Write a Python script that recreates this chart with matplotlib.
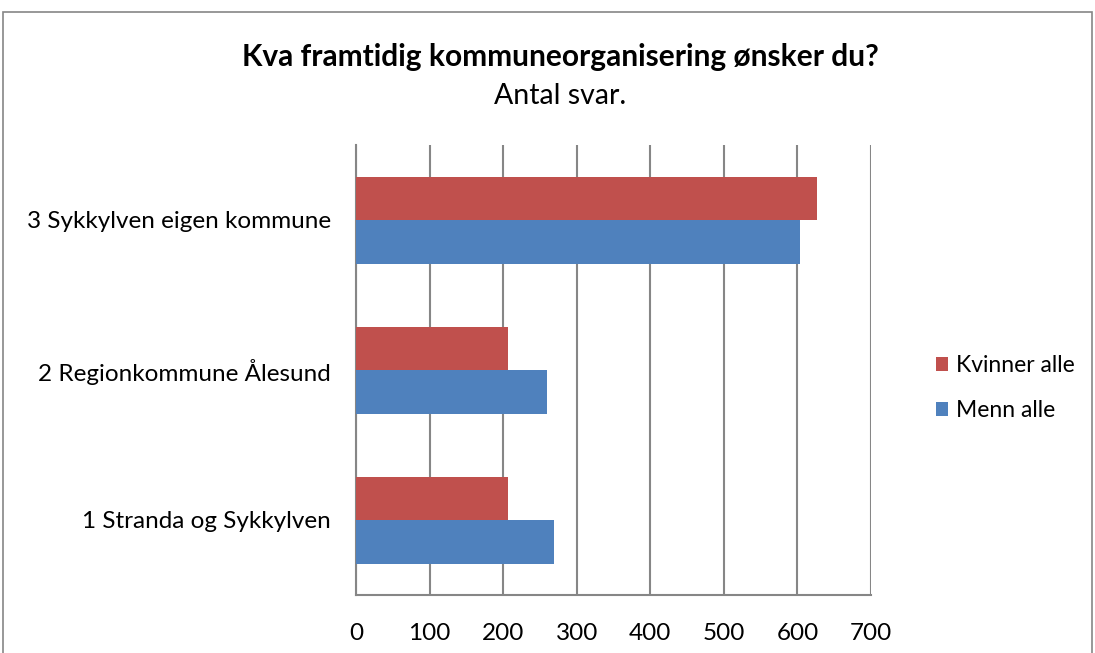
import matplotlib.pyplot as plt
import numpy as np
from matplotlib.patches import Rectangle

plt.rcParams['font.family'] = ['Lato', 'DejaVu Sans']

categories = ["1 Stranda og Sykkylven", "2 Regionkommune Ålesund", "3 Sykkylven eigen kommune"]
kvinner = [206, 206, 626]
menn = [269, 259, 603]
series_names = ["Kvinner alle", "Menn alle"]
xticks = [0, 100, 200, 300, 400, 500, 600, 700]

fig = plt.figure(figsize=(10.95, 6.53), dpi=100)
ax = fig.add_axes([356 / 1095, 1 - 595 / 653, (871 - 356) / 1095, (595 - 145) / 653])

y = np.arange(len(categories))
h = 0.29
ax.barh(y + h / 2, kvinner, height=h, color="#C0504D", label=series_names[0], zorder=3)
ax.barh(y - h / 2, menn, height=h, color="#4F81BD", label=series_names[1], zorder=3)

ax.set_xlim(0, 700)
ax.set_ylim(-0.5, 2.5)
ax.set_xticks(xticks)
ax.set_yticks(y)
ax.set_yticklabels(categories)
ax.tick_params(axis="both", length=0, labelsize=17.5, colors="black")
ax.tick_params(axis="x", pad=20)
ax.tick_params(axis="y", pad=18)
ax.grid(axis="x", color="#868686", linewidth=1.5, zorder=0)
for s in ["top", "right"]:
    ax.spines[s].set_visible(False)
for s in ["left", "bottom"]:
    ax.spines[s].set_color("#868686")
    ax.spines[s].set_linewidth(1.5)

fig.text(560 / 1095, 1 - 57 / 653, "Kva framtidig kommuneorganisering ønsker du?",
         ha="center", va="center", fontsize=21.5, fontweight="bold")
fig.text(560 / 1095, 1 - 96 / 653, "Antal svar.", ha="center", va="center", fontsize=20.5)

handles, labels = ax.get_legend_handles_labels()
fig.legend(handles, labels, loc="center left", bbox_to_anchor=(915 / 1095, 1 - 388 / 653),
           frameon=False, fontsize=16.5, handlelength=0.55, handleheight=0.55,
           handletextpad=0.35, labelspacing=1.05)

fig.patches.append(Rectangle((3 / 1095, -0.05), 1089 / 1095, 1.05 - 12 / 653, transform=fig.transFigure,
                             fill=False, edgecolor="#868686", linewidth=1.2))

fig.savefig("out.png", dpi=100)
